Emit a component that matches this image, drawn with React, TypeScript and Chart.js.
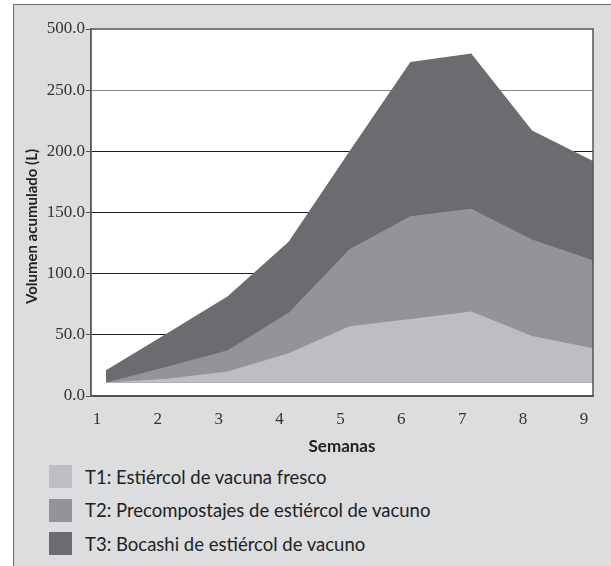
import React, { useEffect, useRef } from "react";
import { Chart, registerables } from "chart.js";

Chart.register(...registerables);

const weeks = [1, 2, 3, 4, 5, 6, 7, 8, 9];
const t1 = [11, 14, 20, 35, 57, 63, 69, 49, 39];
const t2 = [11, 24, 37.5, 68, 120, 147, 153, 128, 111];
const t3 = [21, 51, 81.5, 126, 200, 273, 280, 217, 192];
const seriesLabels = [
  "T1: Estiércol de vacuna fresco",
  "T2: Precompostajes de estiércol de vacuno",
  "T3: Bocashi de estiércol de vacuno",
];
const seriesColors = ["#bdbec1", "#939497", "#6b6c70"];
const yTicks = [0, 50, 100, 150, 200, 250, 300];
const yTickLabels = ["0.0", "50.0", "100.0", "150.0", "200.0", "250.0", "500.0"];
const yTitle = "Volumen acumulado (L)";
const xTitle = "Semanas";
const FLOOR = 11;

const CANVAS_W = 611;
const CANVAS_H = 460;

const plotFrame = {
  id: "plotFrame",
  beforeDraw(chart: any) {
    const { ctx, chartArea: a } = chart;
    ctx.save();
    ctx.fillStyle = "#ffffff";
    ctx.fillRect(a.left, a.top, a.right - a.left, a.bottom - a.top);
    ctx.restore();
  },
  afterDraw(chart: any) {
    const { ctx, chartArea: a } = chart;
    ctx.save();
    ctx.strokeStyle = "#555555";
    ctx.lineWidth = 1.5;
    ctx.strokeRect(a.left, a.top, a.right - a.left, a.bottom - a.top);
    // y axis title, slightly below the axis centre as in the reference
    ctx.translate(32, (a.top + a.bottom) / 2 + 14);
    ctx.rotate(-Math.PI / 2);
    ctx.fillStyle = "#222222";
    ctx.font = "bold 15px Lato, 'Open Sans', sans-serif";
    ctx.textAlign = "center";
    ctx.textBaseline = "middle";
    ctx.fillText(yTitle, 0, 0);
    ctx.restore();
  },
};

export default function App() {
  const ref = useRef<HTMLCanvasElement | null>(null);

  useEffect(() => {
    if (!ref.current) return;
    const series = [t1, t2, t3];
    const chart = new Chart(ref.current, {
      type: "line",
      data: {
        datasets: series.map((s, i) => ({
          label: seriesLabels[i],
          data: s.map((v, j) => ({ x: weeks[j], y: v })),
          backgroundColor: seriesColors[i],
          borderColor: seriesColors[i],
          borderWidth: 0,
          pointRadius: 0,
          tension: 0,
          fill: { value: FLOOR },
        })),
      },
      options: {
        animation: false,
        responsive: false,
        devicePixelRatio: 1,
        layout: { padding: { top: 29, right: 18, left: 0, bottom: 0 } },
        plugins: {
          legend: { display: false },
          tooltip: { enabled: false },
        },
        scales: {
          x: {
            type: "linear",
            min: 0.754,
            max: 9,
            afterBuildTicks: (scale: any) => {
              scale.ticks = weeks.map((v) => ({ value: v }));
            },
            afterFit: (scale: any) => {
              scale.height = 64;
            },
            grid: { display: false },
            border: { display: true, color: "#555555", width: 1.5 },
            ticks: {
              labelOffset: -9,
              padding: 5,
              color: "#333333",
              font: { family: "'Liberation Serif', serif", size: 17 },
              callback: (v: any) => String(v),
            },
            title: {
              display: true,
              text: xTitle,
              color: "#222222",
              font: { family: "Lato, 'Open Sans', sans-serif", size: 17, weight: "bold" },
              padding: { top: 0, bottom: 3 },
            },
          },
          y: {
            min: 0,
            max: 300,
            afterBuildTicks: (scale: any) => {
              scale.ticks = yTicks.map((v) => ({ value: v }));
            },
            afterFit: (scale: any) => {
              scale.width = 91;
            },
            grid: {
              color: (c: any) =>
                c.tick && c.tick.value === 250
                  ? "#8a8a8a"
                  : c.tick && c.tick.value === 300
                  ? "rgba(0,0,0,0)"
                  : "#1e1e1e",
              tickColor: "#555555",
              tickLength: 5,
              lineWidth: 1,
            },
            border: { display: true, color: "#7a7a7a", width: 1.5 },
            ticks: {
              padding: 1,
              color: "#333333",
              font: { family: "'Liberation Serif', serif", size: 17 },
              callback: (v: any) => yTickLabels[yTicks.indexOf(Number(v))],
            },
            title: { display: false },
          },
        },
      },
      plugins: [plotFrame],
    });
    return () => chart.destroy();
  }, []);

  return (
    <div
      style={{
        position: "absolute",
        left: 0,
        top: 0,
        width: 611,
        height: 566,
        overflow: "hidden",
        fontFamily: "Lato, 'Open Sans', sans-serif",
      }}
    >
      <div
        style={{
          position: "absolute",
          left: 13,
          top: 4,
          width: 640,
          height: 600,
          background: "#dcdddf",
          border: "1.5px solid #6f6f6f",
          boxSizing: "border-box",
        }}
      />
      <canvas
        ref={ref}
        width={CANVAS_W}
        height={CANVAS_H}
        style={{ position: "absolute", left: 0, top: 0, width: CANVAS_W, height: CANVAS_H }}
      />
      <div style={{ position: "absolute", left: 49, top: 460 }}>
        {seriesLabels.map((label, i) => (
          <div
            key={label}
            style={{ display: "flex", alignItems: "center", height: 33.5 }}
          >
            <div
              style={{
                width: 23,
                height: 23,
                background: seriesColors[i],
                marginRight: 13,
              }}
            />
            <span style={{ fontSize: 18.5, color: "#222222", whiteSpace: "nowrap" }}>{label}</span>
          </div>
        ))}
      </div>
    </div>
  );
}
